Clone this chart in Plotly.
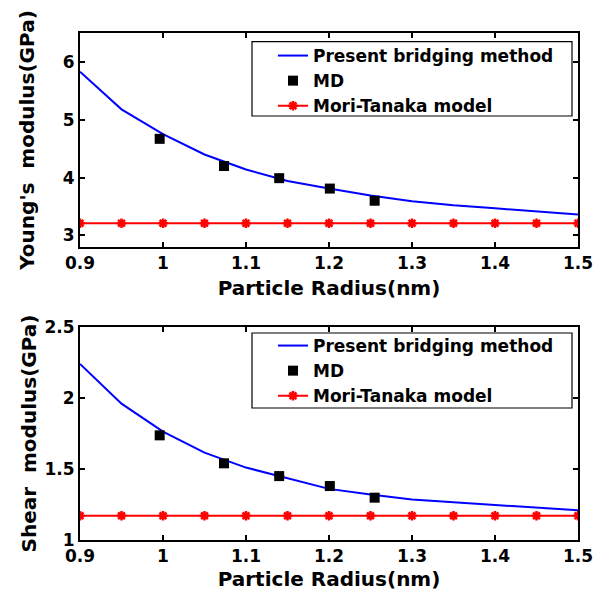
import plotly.graph_objects as go

# Data
radius_curve = [0.9, 0.95, 1.0, 1.05, 1.1, 1.15, 1.2, 1.25, 1.3, 1.35, 1.4, 1.45, 1.5]
young_bridging = [5.83, 5.18, 4.75, 4.40, 4.14, 3.94, 3.81, 3.69, 3.59, 3.52, 3.47, 3.41, 3.36]
shear_bridging = [2.24, 1.96, 1.763, 1.615, 1.51, 1.435, 1.36, 1.32, 1.285, 1.265, 1.246, 1.232, 1.21]

radius_md = [0.996, 1.0735, 1.14, 1.201, 1.255]
young_md = [4.67, 4.20, 3.99, 3.81, 3.60]
shear_md = [1.737, 1.54, 1.45, 1.38, 1.298]

radius_mt = [0.9, 0.95, 1.0, 1.05, 1.1, 1.15, 1.2, 1.25, 1.3, 1.35, 1.4, 1.45, 1.5]
young_mt = [3.21] * len(radius_mt)
shear_mt = [1.171] * len(radius_mt)

names = ["Present bridging method", "MD", "Mori-Tanaka model"]
x_ticks = [0.9, 1.0, 1.1, 1.2, 1.3, 1.4, 1.5]
x_ticktext = ["0.9", "1", "1.1", "1.2", "1.3", "1.4", "1.5"]

FONT = "DejaVu Sans, sans-serif"

fig = go.Figure()

for i, (yb, ymd, ymt, leg, xa, ya) in enumerate([
    (young_bridging, young_md, young_mt, "legend", "x", "y"),
    (shear_bridging, shear_md, shear_mt, "legend2", "x2", "y2"),
]):
    fig.add_trace(go.Scatter(x=radius_curve, y=yb, mode="lines", name=names[0],
                             line=dict(color="#0000ff", width=2), legend=leg, xaxis=xa, yaxis=ya))
    fig.add_trace(go.Scatter(x=radius_md, y=ymd, mode="markers", name=names[1],
                             marker=dict(symbol="square", size=10, color="black"),
                             legend=leg, xaxis=xa, yaxis=ya))
    fig.add_trace(go.Scatter(x=radius_mt, y=ymt, mode="lines+markers", name=names[2],
                             line=dict(color="#ff0000", width=2),
                             marker=dict(symbol="asterisk", size=8, color="#ff0000",
                                         line=dict(color="#ff0000", width=2.5)),
                             legend=leg, xaxis=xa, yaxis=ya))

# page body has an 8px margin, so figure coordinates = reference pixels - 8
OFF = 8
W, H = 605 - OFF, 595 - OFF


def px(x):
    return (x - OFF) / W


def py(y):
    return 1 - (y - OFF) / H


xd = [px(80), px(578)]
yd1 = [py(247), py(33)]
yd2 = [py(540), py(327)]

axis_common = dict(showline=True, linecolor="black", linewidth=2, mirror="ticks",
                   ticks="inside", ticklen=5, tickwidth=1.5, tickcolor="black",
                   showgrid=False, zeroline=False, automargin=False,
                   tickfont=dict(family=FONT, size=17, color="black", weight="bold"))
xtitle_font = dict(family=FONT, size=20, color="black", weight="bold")
ytitle_font = dict(family=FONT, size=20, color="black", weight="bold")

legend_font = dict(family=FONT, size=17, color="black", weight="bold")

fig.update_layout(
    width=W, height=H,
    margin=dict(l=0, r=0, t=0, b=0),
    paper_bgcolor="white", plot_bgcolor="white",
    font=dict(family=FONT, color="black"),
    xaxis=dict(domain=xd, anchor="y", range=[0.9, 1.5], tickvals=x_ticks, ticktext=x_ticktext,
               title=dict(text="Particle Radius(nm)", standoff=9, font=xtitle_font), **axis_common),
    yaxis=dict(domain=yd1, anchor="x", range=[2.8, 6.5], tickvals=[3, 4, 5, 6],
               title=dict(text="Young's  modulus(GPa)", standoff=23, font=ytitle_font), **axis_common),
    xaxis2=dict(domain=xd, anchor="y2", range=[0.9, 1.5], tickvals=x_ticks, ticktext=x_ticktext,
                title=dict(text="Particle Radius(nm)", standoff=7, font=xtitle_font), **axis_common),
    yaxis2=dict(domain=yd2, anchor="x2", range=[1, 2.5], tickvals=[1, 1.5, 2, 2.5],
                ticktext=["1", "1.5", "2", "2.5"],
                title=dict(text="Shear  modulus(GPa)", standoff=2, font=ytitle_font), **axis_common),
    legend=dict(x=px(273), y=py(38), xanchor="left", yanchor="top",
                bgcolor="rgba(0,0,0,0)", borderwidth=0,
                font=legend_font, tracegroupgap=0, itemwidth=30),
    legend2=dict(x=px(273), y=py(328), xanchor="left", yanchor="top",
                 bgcolor="rgba(0,0,0,0)", borderwidth=0,
                 font=legend_font, tracegroupgap=0, itemwidth=30),
    shapes=[
        dict(type="rect", xref="paper", yref="paper", x0=px(252), x1=px(572),
             y0=py(116), y1=py(41.7), line=dict(color="black", width=1.2),
             fillcolor="white", layer="above"),
        dict(type="rect", xref="paper", yref="paper", x0=px(252), x1=px(572),
             y0=py(408), y1=py(333), line=dict(color="black", width=1.2),
             fillcolor="white", layer="above"),
    ],
)

fig.write_html("out.html")
